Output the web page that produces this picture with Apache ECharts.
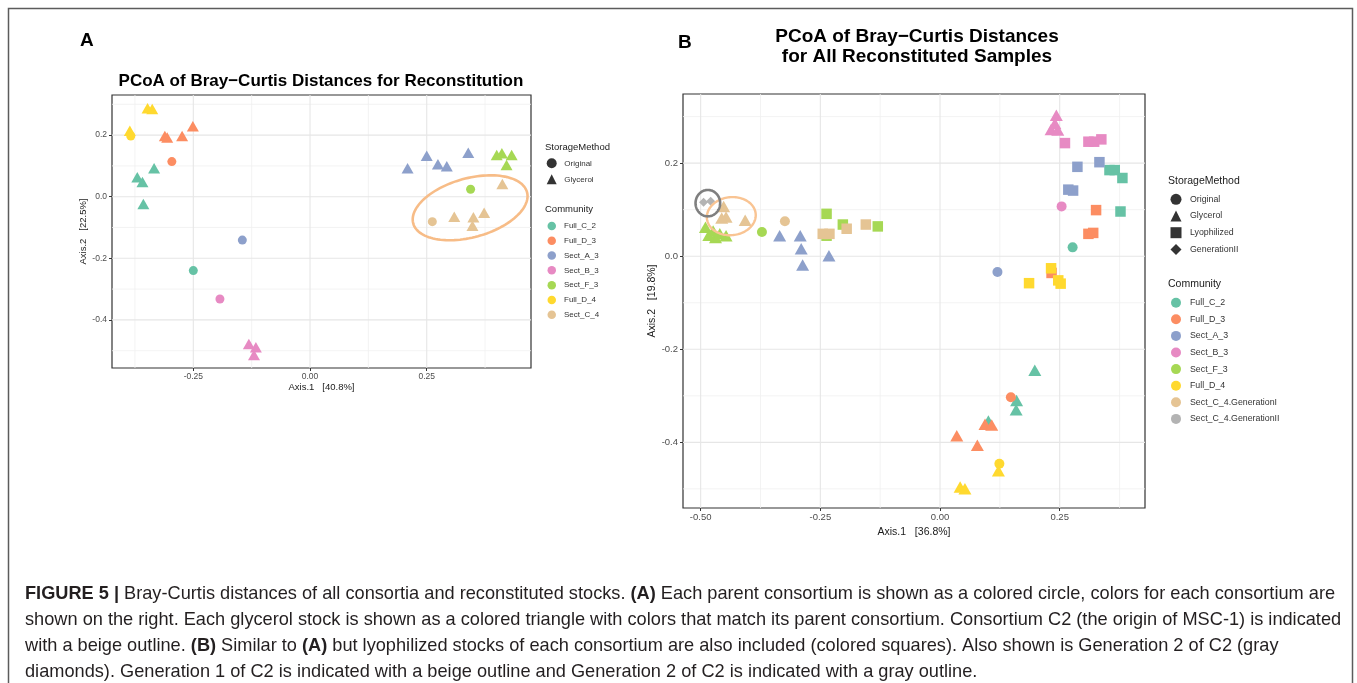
<!DOCTYPE html>
<html>
<head>
<meta charset="utf-8">
<script src="https://cdn.jsdelivr.net/npm/echarts@6/dist/echarts.min.js"></script>
<style>
  html, body { margin: 0; padding: 0; background: #fff; }
  #chart { width: 1357px; height: 683px; }
</style>
</head>
<body>
<div id="chart"></div>
<script>
// ---------- data ----------
const COMMUNITIES_A = ['Full_C_2', 'Full_D_3', 'Sect_A_3', 'Sect_B_3', 'Sect_F_3', 'Full_D_4', 'Sect_C_4'];
const COMMUNITIES_B = ['Full_C_2', 'Full_D_3', 'Sect_A_3', 'Sect_B_3', 'Sect_F_3', 'Full_D_4',
                       'Sect_C_4.GenerationI', 'Sect_C_4.GenerationII'];
const STORAGE_A = ['Original', 'Glycerol'];
const STORAGE_B = ['Original', 'Glycerol', 'Lyophilized', 'GenerationII'];

// Panel A samples: [storage method, Axis.1, Axis.2]
const A_FULL_C_2 = [['Original', -0.250, -0.240], ['Glycerol', -0.370, 0.063], ['Glycerol', -0.359, 0.048],
                    ['Glycerol', -0.334, 0.092], ['Glycerol', -0.357, -0.024]];
const A_FULL_D_3 = [['Original', -0.296, 0.114], ['Glycerol', -0.311, 0.197], ['Glycerol', -0.306, 0.192],
                    ['Glycerol', -0.274, 0.197], ['Glycerol', -0.251, 0.229]];
const A_SECT_A_3 = [['Original', -0.145, -0.141], ['Glycerol', 0.209, 0.092], ['Glycerol', 0.250, 0.133],
                    ['Glycerol', 0.274, 0.105], ['Glycerol', 0.293, 0.099], ['Glycerol', 0.339, 0.143]];
const A_SECT_B_3 = [['Original', -0.193, -0.332], ['Glycerol', -0.131, -0.478], ['Glycerol', -0.116, -0.489],
                    ['Glycerol', -0.120, -0.514]];
const A_SECT_F_3 = [['Original', 0.344, 0.024], ['Glycerol', 0.400, 0.135], ['Glycerol', 0.411, 0.141],
                    ['Glycerol', 0.432, 0.135], ['Glycerol', 0.421, 0.103]];
const A_FULL_D_4 = [['Original', -0.384, 0.197], ['Glycerol', -0.386, 0.214], ['Glycerol', -0.348, 0.287],
                    ['Glycerol', -0.338, 0.285]];
const A_SECT_C_4 = [['Original', 0.262, -0.081], ['Glycerol', 0.412, 0.041], ['Glycerol', 0.309, -0.065],
                    ['Glycerol', 0.350, -0.067], ['Glycerol', 0.348, -0.094], ['Glycerol', 0.373, -0.052]];

// Panel B samples: [storage method, Axis.1, Axis.2]
const B_FULL_C_2 = [['Original', 0.277, 0.019],
                    ['Glycerol', 0.198, -0.245], ['Glycerol', 0.160, -0.310], ['Glycerol', 0.159, -0.330], ['Glycerol', 0.101, -0.354],
                    ['Lyophilized', 0.354, 0.185], ['Lyophilized', 0.365, 0.185], ['Lyophilized', 0.381, 0.168], ['Lyophilized', 0.377, 0.096]];
const B_FULL_D_3 = [['Original', 0.148, -0.303],
                    ['Glycerol', 0.094, -0.361], ['Glycerol', 0.108, -0.363], ['Glycerol', 0.035, -0.386], ['Glycerol', 0.078, -0.406],
                    ['Lyophilized', 0.326, 0.099], ['Lyophilized', 0.310, 0.048], ['Lyophilized', 0.320, 0.050], ['Lyophilized', 0.233, -0.036]];
const B_SECT_A_3 = [['Original', 0.120, -0.034],
                    ['Glycerol', -0.335, 0.044], ['Glycerol', -0.292, 0.044], ['Glycerol', -0.290, 0.016], ['Glycerol', -0.287, -0.019], ['Glycerol', -0.232, 0.001],
                    ['Lyophilized', 0.287, 0.192], ['Lyophilized', 0.333, 0.202], ['Lyophilized', 0.268, 0.143], ['Lyophilized', 0.278, 0.141]];
const B_SECT_B_3 = [['Original', 0.254, 0.107],
                    ['Glycerol', 0.243, 0.303], ['Glycerol', 0.240, 0.285], ['Glycerol', 0.232, 0.272], ['Glycerol', 0.246, 0.271],
                    ['Lyophilized', 0.261, 0.243], ['Lyophilized', 0.310, 0.246], ['Lyophilized', 0.322, 0.246], ['Lyophilized', 0.337, 0.251]];
const B_SECT_F_3 = [['Original', -0.372, 0.052],
                    ['Glycerol', -0.490, 0.062], ['Glycerol', -0.483, 0.045], ['Glycerol', -0.469, 0.040], ['Glycerol', -0.460, 0.048],
                    ['Glycerol', -0.447, 0.044], ['Glycerol', -0.474, 0.054],
                    ['Lyophilized', -0.237, 0.091], ['Lyophilized', -0.237, 0.044], ['Lyophilized', -0.203, 0.068], ['Lyophilized', -0.130, 0.064]];
const B_FULL_D_4 = [['Original', 0.124, -0.446],
                    ['Glycerol', 0.122, -0.461], ['Glycerol', 0.042, -0.496], ['Glycerol', 0.052, -0.500],
                    ['Lyophilized', 0.232, -0.026], ['Lyophilized', 0.247, -0.052], ['Lyophilized', 0.252, -0.059], ['Lyophilized', 0.186, -0.058]];
const B_SECT_C_4_G1 = [['Original', -0.324, 0.075],
                    ['Glycerol', -0.452, 0.107], ['Glycerol', -0.447, 0.084], ['Glycerol', -0.456, 0.082], ['Glycerol', -0.407, 0.077],
                    ['Lyophilized', -0.245, 0.048], ['Lyophilized', -0.231, 0.048], ['Lyophilized', -0.195, 0.059], ['Lyophilized', -0.155, 0.068]];
const B_SECT_C_4_G2 = [['GenerationII', -0.494, 0.116], ['GenerationII', -0.479, 0.118]];

// Outlined groups (centre in axis units)
const OUTLINE_A_C2 = [0.343, -0.036];
const OUTLINE_B_GEN1 = [-0.436, 0.086];
const OUTLINE_B_GEN2 = [-0.485, 0.114];

// Axis breaks
const X_BREAKS_A = [-0.25, 0, 0.25];
const X_BREAKS_B = [-0.5, -0.25, 0, 0.25];
const X_MINOR = [-0.375, -0.125, 0.125, 0.375];
const Y_BREAKS = [-0.4, -0.2, 0, 0.2];
const Y_MINOR = [-0.5, -0.3, -0.1, 0.1, 0.3];
const AXIS_TITLES_A = ['Axis.1   [40.8%]', 'Axis.2   [22.5%]'];
const AXIS_TITLES_B = ['Axis.1   [36.8%]', 'Axis.2   [19.8%]'];

// ---------- styling ----------
const FONT = '"Liberation Sans", Arial, Helvetica, sans-serif';
const PALETTE = {
  'Full_C_2': '#66C2A5', 'Full_D_3': '#FC8D62', 'Sect_A_3': '#8DA0CB', 'Sect_B_3': '#E78AC3',
  'Sect_F_3': '#A6D854', 'Full_D_4': '#FFD92F', 'Sect_C_4': '#E5C494',
  'Sect_C_4.GenerationI': '#E5C494', 'Sect_C_4.GenerationII': '#B3B3B3'
};
const SHAPE = { Original: 'circle', Glycerol: 'triangle', Lyophilized: 'rect', GenerationII: 'diamond' };
const SIZE_A = { circle: 9, triangle: [12, 10.5], rect: [10, 10], diamond: [9, 9] };
const SIZE_B = { circle: 10, triangle: [13, 11.5], rect: [10.5, 10.5], diamond: [9, 9] };

const panelA = {
  'Full_C_2': A_FULL_C_2, 'Full_D_3': A_FULL_D_3, 'Sect_A_3': A_SECT_A_3, 'Sect_B_3': A_SECT_B_3,
  'Sect_F_3': A_SECT_F_3, 'Full_D_4': A_FULL_D_4, 'Sect_C_4': A_SECT_C_4
};
const panelB = {
  'Full_C_2': B_FULL_C_2, 'Full_D_3': B_FULL_D_3, 'Sect_A_3': B_SECT_A_3, 'Sect_B_3': B_SECT_B_3,
  'Sect_F_3': B_SECT_F_3, 'Full_D_4': B_FULL_D_4,
  'Sect_C_4.GenerationI': B_SECT_C_4_G1, 'Sect_C_4.GenerationII': B_SECT_C_4_G2
};

function pointSeries(name, rows, axisIndex, sizes) {
  return {
    type: 'scatter', name: name, xAxisIndex: axisIndex, yAxisIndex: axisIndex, z: 3,
    symbol: 'circle', symbolSize: sizes.circle,
    itemStyle: { color: PALETTE[name], opacity: 1 },
    emphasis: { disabled: true },
    data: rows.map(r => {
      const shape = SHAPE[r[0]];
      return { value: [r[1], r[2]], symbol: shape, symbolSize: sizes[shape] };
    })
  };
}

// Panel background grid (major + minor lines)
function gridLineSeries(axisIndex, xMajor, yMajor) {
  const data = [];
  X_MINOR.forEach(v => data.push([0, v, 0]));
  Y_MINOR.forEach(v => data.push([1, v, 0]));
  xMajor.forEach(v => data.push([0, v, 1]));
  yMajor.forEach(v => data.push([1, v, 1]));
  return {
    type: 'custom', xAxisIndex: axisIndex, yAxisIndex: axisIndex, z: 1, silent: true,
    data: data,
    renderItem(params, api) {
      const cs = params.coordSys;
      const dim = api.value(0), v = api.value(1), major = api.value(2);
      let shape;
      if (dim === 0) {
        const x = api.coord([v, 0])[0];
        shape = { x1: x, y1: cs.y, x2: x, y2: cs.y + cs.height };
      } else {
        const y = api.coord([0, v])[1];
        shape = { x1: cs.x, y1: y, x2: cs.x + cs.width, y2: y };
      }
      return { type: 'line', shape: shape,
               style: { stroke: major ? '#E6E6E6' : '#F0F0F0', lineWidth: major ? 1.1 : 0.8 } };
    }
  };
}

// Outline drawn around a group of samples
function outlineSeries(axisIndex, centre, rx, ry, angleDeg, color, width) {
  return {
    type: 'custom', xAxisIndex: axisIndex, yAxisIndex: axisIndex, z: 5, silent: true,
    data: [centre],
    renderItem(params, api) {
      const c = api.coord([api.value(0), api.value(1)]);
      const t = angleDeg * Math.PI / 180;
      const pts = [];
      for (let i = 0; i < 120; i++) {
        const a = i / 120 * Math.PI * 2;
        const ex = rx * Math.cos(a), ey = ry * Math.sin(a);
        pts.push([c[0] + ex * Math.cos(t) - ey * Math.sin(t),
                  c[1] - (ex * Math.sin(t) + ey * Math.cos(t))]);
      }
      return { type: 'polygon', shape: { points: pts },
               style: { fill: 'none', stroke: color, lineWidth: width } };
    }
  };
}

function storageSeries(name) {
  return { type: 'scatter', name: name, data: [], xAxisIndex: 0, yAxisIndex: 0,
           symbol: SHAPE[name], itemStyle: { color: '#000' } };
}

function xAxisDef(gridIndex, min, max, breaks, title, fs, nameGap) {
  return {
    gridIndex: gridIndex, type: 'value', min: min, max: max, position: 'bottom',
    axisLine: { show: false, onZero: false }, splitLine: { show: false },
    axisTick: { show: true, length: 3, customValues: breaks, lineStyle: { color: '#333', width: 1 } },
    axisLabel: { customValues: breaks, formatter: v => v.toFixed(2), color: '#4D4D4D',
                 fontSize: fs, fontFamily: FONT, margin: 4 },
    name: title, nameLocation: 'middle', nameGap: nameGap,
    nameTextStyle: { color: '#1a1a1a', fontSize: fs + 1, fontFamily: FONT }
  };
}
function yAxisDef(gridIndex, min, max, title, fs, nameGap) {
  return {
    gridIndex: gridIndex, type: 'value', min: min, max: max, position: 'left',
    axisLine: { show: false, onZero: false }, splitLine: { show: false },
    axisTick: { show: true, length: 3, customValues: Y_BREAKS, lineStyle: { color: '#333', width: 1 } },
    axisLabel: { customValues: Y_BREAKS, formatter: v => v.toFixed(1), color: '#4D4D4D',
                 fontSize: fs, fontFamily: FONT, margin: 5 },
    name: title, nameLocation: 'middle', nameGap: nameGap,
    nameTextStyle: { color: '#1a1a1a', fontSize: fs + 1, fontFamily: FONT }
  };
}

const series = [];
STORAGE_B.forEach(s => series.push(storageSeries(s)));
series.push(gridLineSeries(0, X_BREAKS_A, Y_BREAKS));
series.push(gridLineSeries(1, X_BREAKS_B, Y_BREAKS));
COMMUNITIES_A.forEach(c => series.push(pointSeries(c, panelA[c], 0, SIZE_A)));
COMMUNITIES_B.forEach(c => series.push(pointSeries(c, panelB[c], 1, SIZE_B)));
series.push(outlineSeries(0, OUTLINE_A_C2, 59, 29.5, 15.4, '#F7BC87', 2.6));
series.push(outlineSeries(1, OUTLINE_B_GEN1, 24.5, 19, 6, '#F9C493', 2.4));
series.push(outlineSeries(1, OUTLINE_B_GEN2, 12.3, 13.2, 0, '#7F7F7F', 2.6));

function legendDef(left, top, names, icons, w, h, gap, fs, pad) {
  return {
    orient: 'vertical', left: left, top: top, padding: 0,
    itemWidth: w, itemHeight: h, itemGap: gap, selectedMode: false,
    data: names.map((n, i) => ({ name: n, icon: icons[i] })),
    textStyle: { fontSize: fs, fontFamily: FONT, color: '#333', lineHeight: h, padding: [0, 0, 0, pad] }
  };
}

const legends = [
  legendDef(546.7, 158.3, STORAGE_A, STORAGE_A.map(s => SHAPE[s]), 10, 10, 6, 8, 2.6),
  legendDef(547.5, 221.7, COMMUNITIES_A, COMMUNITIES_A.map(() => 'circle'), 8.5, 8.5, 6.3, 8, 3),
  legendDef(1170.5, 193.8, STORAGE_B, STORAGE_B.map(s => SHAPE[s]), 11, 11, 5.7, 8.8, 3.5),
  legendDef(1171, 297.7, COMMUNITIES_B, COMMUNITIES_B.map(() => 'circle'), 10, 10, 6.6, 8.8, 4)
];

function label(text, x, y, font, align, color) {
  return { type: 'text', x: x, y: y, silent: true, z: 10,
           style: { text: text, font: font, fill: color || '#000', align: align || 'left', verticalAlign: 'middle' } };
}

const CAPTION_SIZE = 18.2;
const CAPTION =
  '{b|FIGURE 5 |}{n| Bray-Curtis distances of all consortia and reconstituted stocks. }{b|(A)}{n| Each parent consortium is shown as a colored circle, colors for each consortium are}\n' +
  '{n|shown on the right. Each glycerol stock is shown as a colored triangle with colors that match its parent consortium. Consortium C2 (the origin of MSC-1) is indicated}\n' +
  '{n|with a beige outline. }{b|(B)}{n| Similar to }{b|(A)}{n| but lyophilized stocks of each consortium are also included (colored squares). Also shown is Generation 2 of C2 (gray}\n' +
  '{n|diamonds). Generation 1 of C2 is indicated with a beige outline and Generation 2 of C2 is indicated with a gray outline.}';

const graphics = [
  { type: 'rect', silent: true, z: 0, shape: { x: 8.5, y: 8.5, width: 1344, height: 700 },
    style: { fill: 'none', stroke: '#5c5c5c', lineWidth: 1.5 } },
  label('A', 80, 41, 'bold 19px ' + FONT),
  label('B', 678, 43, 'bold 19px ' + FONT),
  label('PCoA of Bray\u2212Curtis Distances for Reconstitution', 321, 81, 'bold 17px ' + FONT, 'center'),
  label('PCoA of Bray\u2212Curtis Distances', 917, 37, 'bold 19px ' + FONT, 'center'),
  label('for All Reconstituted Samples', 917, 57, 'bold 19px ' + FONT, 'center'),
  label('StorageMethod', 545, 147, '9.5px ' + FONT, 'left', '#1a1a1a'),
  label('Community', 545, 209.3, '9.5px ' + FONT, 'left', '#1a1a1a'),
  label('StorageMethod', 1168, 180.7, '10.5px ' + FONT, 'left', '#1a1a1a'),
  label('Community', 1168, 284, '10.5px ' + FONT, 'left', '#1a1a1a'),
  { type: 'text', x: 25, y: 581, silent: true, z: 10,
    style: {
      text: CAPTION, fill: '#231F20', font: CAPTION_SIZE + 'px ' + FONT, lineHeight: 26,
      rich: {
        b: { fontFamily: FONT, fontSize: CAPTION_SIZE, fontWeight: 'bold', lineHeight: 26, fill: '#231F20' },
        n: { fontFamily: FONT, fontSize: CAPTION_SIZE, fontWeight: 'normal', lineHeight: 26, fill: '#231F20' }
      }
    } }
];

const chart = echarts.init(document.getElementById('chart'), null, { renderer: 'canvas' });
chart.setOption({
  animation: false,
  backgroundColor: '#fff',
  grid: [
    { left: 112, top: 95, width: 419, height: 273, show: true, backgroundColor: '#fff',
      borderColor: '#333', borderWidth: 1.2, containLabel: false },
    { left: 683, top: 94, width: 462, height: 414, show: true, backgroundColor: '#fff',
      borderColor: '#333', borderWidth: 1.2, containLabel: false }
  ],
  xAxis: [
    xAxisDef(0, -0.4242, 0.4734, X_BREAKS_A, AXIS_TITLES_A[0], 8.5, 12.5),
    xAxisDef(1, -0.5369, 0.4282, X_BREAKS_B, AXIS_TITLES_B[0], 9.5, 12.5)
  ],
  yAxis: [
    yAxisDef(0, -0.5562, 0.3302, AXIS_TITLES_A[1], 8.5, 21.5),
    yAxisDef(1, -0.5411, 0.3485, AXIS_TITLES_B[1], 9.5, 25)
  ],
  legend: legends,
  graphic: graphics,
  series: series
});
</script>
</body>
</html>
